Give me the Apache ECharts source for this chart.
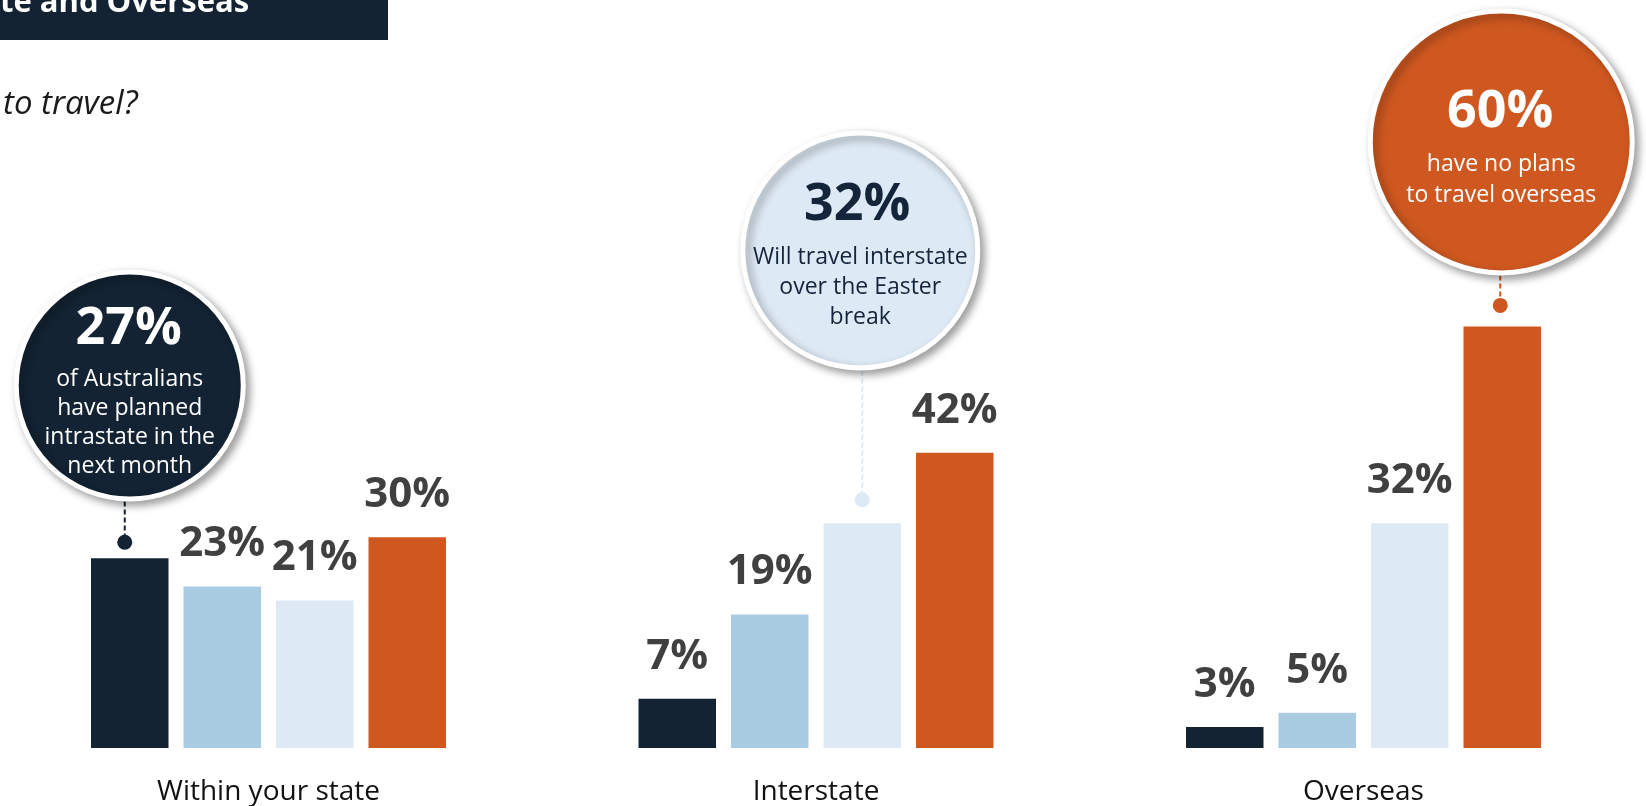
<!DOCTYPE html>
<html>
<head>
<meta charset="utf-8">
<script src="https://cdn.jsdelivr.net/npm/echarts@6/dist/echarts.min.js"></script>
<style>
html,body{margin:0;padding:0;background:#fff;}
#chart{width:1646px;height:806px;}
</style>
</head>
<body>
<div id="chart"></div>
<script>
// ---- data ----
const categories = ['Within your state', 'Interstate', 'Overseas'];
const seriesNames = ['Already planned', 'Considering', 'Over the Easter break', 'No plans'];
const plannedValues = [27, 7, 3];
const consideringValues = [23, 19, 5];
const easterValues = [21, 32, 32];
const noPlansValues = [30, 42, 60];
const titleText = 'te and Overseas';
const subtitleText = 'to travel?';
// callouts: which bar each bubble points at, and its text
const calloutSeries = [0, 2, 3];
const calloutCategory = [0, 1, 2];
const calloutNumbers = ['27%', '32%', '60%'];
const calloutLines = [
  'of Australians\nhave planned\nintrastate in the\nnext month',
  'Will travel interstate\nover the Easter\nbreak',
  'have no plans\nto travel overseas'
];

// ---- styles ----
const colors = ['#132333', '#a9cce3', '#dde9f4', '#cf5820'];
const BW = 77.5, GAP = 15;
const FONT = '"Open Sans", "Noto Sans", sans-serif';

const allValues = [plannedValues, consideringValues, easterValues, noPlansValues];

function isCallout(s, c) {
  for (let i = 0; i < calloutSeries.length; i++) {
    if (calloutSeries[i] === s && calloutCategory[i] === c) return true;
  }
  return false;
}

const series = allValues.map((vals, s) => ({
  name: seriesNames[s],
  type: 'bar',
  clip: false,
  barWidth: BW,
  barGap: (GAP / BW * 100) + '%',
  itemStyle: { color: colors[s] },
  label: {
    show: true, position: 'top', distance: 21,
    formatter: '{c}%',
    fontFamily: FONT, fontWeight: 'bold', fontSize: 42, color: '#404040'
  },
  data: vals.map((v, c) => isCallout(s, c) ? { value: v, label: { show: false } } : v)
}));

const chart = echarts.init(document.getElementById('chart'), null, { renderer: 'canvas' });
const option = {
  backgroundColor: '#ffffff',
  animation: false,
  grid: { left: 268.5, right: 282.5, top: 45.3, bottom: 57.7, containLabel: false },
  xAxis: {
    type: 'category', data: categories, boundaryGap: false,
    axisLine: { show: false }, axisTick: { show: false },
    axisLabel: { margin: 30, interval: 0, fontFamily: FONT, fontSize: 28, color: '#111111' }
  },
  yAxis: { type: 'value', min: 0, max: 100, show: false, splitLine: { show: false } },
  series: series
};
chart.setOption(option);

// ---- callout bubbles placed from the axes' own scales ----
const bubbleStyle = [
  { r: 116, cy: 172.8, cx: 0, dotGap: 16, dotX: -5, fill: colors[0], text: '#ffffff', line: colors[0], numY: -56.6, numX: -1, linesTop: -21, lh: 29 },
  { r: 120, cy: 272.7, cx: -2, dotGap: 23.4, dotX: 0, fill: colors[2], text: '#14243a', line: colors[2], numY: -44.8, numX: -3, linesTop: -8.2, lh: 30 },
  { r: 133.5, cy: 184.5, cx: -1, dotGap: 21, dotX: -2, fill: colors[3], text: '#ffffff', line: colors[3], numY: -29.5, numX: -1, linesTop: 6.5, lh: 31.5 }
];

const graphics = [];
// title block
graphics.push({ type: 'rect', shape: { x: 0, y: 0, width: 388, height: 40 }, style: { fill: '#132333' }, z: 10 });
graphics.push({ type: 'text', x: 0, y: 3, style: { text: titleText, fill: '#ffffff', font: 'bold 31px ' + FONT, textAlign: 'left', textVerticalAlign: 'middle' }, z: 11 });
graphics.push({ type: 'text', x: 3, y: 105, style: { text: subtitleText, fill: '#1a1a1a', font: 'italic 33px ' + FONT, textAlign: 'left', textVerticalAlign: 'middle' }, z: 11 });

calloutSeries.forEach((s, i) => {
  const c = calloutCategory[i];
  const st = bubbleStyle[i];
  const catX = chart.convertToPixel({ xAxisIndex: 0 }, c);
  const barX = catX + (s - 1.5) * (BW + GAP);
  const topY = chart.convertToPixel({ yAxisIndex: 0 }, allValues[s][c]);
  const dotY = topY - st.dotGap;
  const cx = barX + st.cx;
  const cy = topY - st.cy;
  const innerR = st.r - 2.5;
  // dashed connector
  graphics.push({ type: 'line', shape: { x1: barX + st.dotX, y1: cy + st.r, x2: barX + st.dotX, y2: dotY }, style: { stroke: st.line, lineWidth: 2, lineDash: [5, 3] }, z: 5 });
  graphics.push({ type: 'circle', shape: { cx: barX + st.dotX, cy: dotY, r: 7.5 }, style: { fill: st.line }, z: 6 });
  // bubble
  graphics.push({ type: 'circle', shape: { cx: cx, cy: cy, r: innerR }, style: { fill: st.fill, stroke: '#ffffff', lineWidth: 5, shadowBlur: 8, shadowOffsetX: 4, shadowOffsetY: 4, shadowColor: 'rgba(0,0,0,0.35)' }, z: 7 });
  graphics.push({ type: 'text', x: cx + st.numX, y: cy + st.numY, style: { text: calloutNumbers[i], fill: st.text, font: 'bold 52px ' + FONT, textAlign: 'center', textVerticalAlign: 'middle' }, z: 8 });
  graphics.push({ type: 'text', x: cx, y: cy + st.linesTop, style: { text: calloutLines[i], fill: st.text, font: '23px ' + FONT, textAlign: 'center', textVerticalAlign: 'top', lineHeight: st.lh }, z: 8 });
});

chart.setOption({ graphic: graphics });
</script>
</body>
</html>
